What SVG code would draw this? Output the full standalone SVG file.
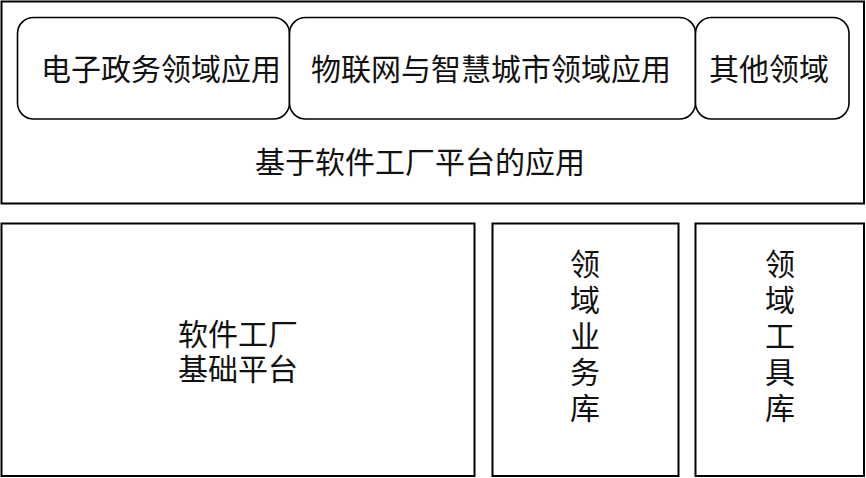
<svg xmlns="http://www.w3.org/2000/svg" width="866" height="478" viewBox="0 0 866 478">
<style>
.box{fill:#fff;stroke:#000;stroke-width:2}
.rbox{fill:#fff;stroke:#000;stroke-width:1.6}
.t{font-family:"Noto Sans CJK SC","Microsoft YaHei",sans-serif;font-size:30px;fill:#111;text-anchor:middle}
</style>
<rect width="866" height="478" fill="#fff"/>
<g id="app-layer">
<rect class="box" x="1.5" y="1.5" width="862.5" height="202"/>
<text class="t" x="420" y="173">基于软件工厂平台的应用</text>
</g>
<g id="egov">
<rect class="rbox" x="17.5" y="17.5" width="272" height="101.5" rx="16"/>
<text class="t" x="161" y="80">电子政务领域应用</text>
</g>
<g id="iot">
<rect class="rbox" x="289.5" y="17.5" width="406" height="101.5" rx="16"/>
<text class="t" x="491" y="80">物联网与智慧城市领域应用</text>
</g>
<g id="other">
<rect class="rbox" x="695.5" y="17.5" width="153.5" height="101.5" rx="16"/>
<text class="t" x="769" y="80">其他领域</text>
</g>
<g id="platform">
<rect class="box" x="1.5" y="223.5" width="473" height="252.5"/>
<text class="t" x="238" y="345">软件工厂</text>
<text class="t" x="238" y="380">基础平台</text>
</g>
<g id="biz-lib">
<rect class="box" x="492.5" y="223.5" width="186" height="252.5"/>
<text class="t" x="585" y="275">领</text>
<text class="t" x="585" y="311">域</text>
<text class="t" x="585" y="347">业</text>
<text class="t" x="585" y="383">务</text>
<text class="t" x="585" y="419">库</text>
</g>
<g id="tool-lib">
<rect class="box" x="695.5" y="223.5" width="168.5" height="252.5"/>
<text class="t" x="780" y="275">领</text>
<text class="t" x="780" y="311">域</text>
<text class="t" x="780" y="347">工</text>
<text class="t" x="780" y="383">具</text>
<text class="t" x="780" y="419">库</text>
</g>
<g id="connectors"></g>
</svg>
